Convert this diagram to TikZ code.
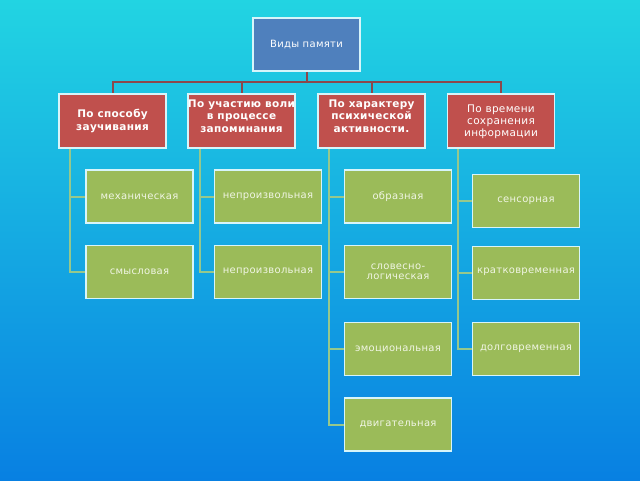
\documentclass[tikz,border=0pt]{standalone}
\usepackage{fontspec}
\setmainfont[LetterSpace=3]{DejaVu Sans}
\definecolor{bgtop}{RGB}{34,212,226}
\definecolor{bgbot}{RGB}{8,128,226}
\definecolor{topfill}{RGB}{79,128,189}
\definecolor{redfill}{RGB}{192,80,77}
\definecolor{greenfill}{RGB}{155,187,89}
\definecolor{edgec}{RGB}{215,245,250}
\definecolor{redline}{RGB}{140,72,76}
\definecolor{greenline}{RGB}{150,200,140}
\definecolor{gtext}{RGB}{240,245,228}
\tikzset{
  boxbase/.style={draw=edgec, line width=1.8pt, minimum width=107pt, minimum height=53pt, inner sep=0pt, align=center},
  topbox/.style={boxbase, fill=topfill, text=white, font=\fontsize{10}{12}\selectfont},
  redbox/.style={boxbase, fill=redfill, minimum height=54pt},
  greenbox/.style={boxbase, fill=greenfill, text=gtext, font=\fontsize{10}{10.5}\selectfont},
  redtext/.style={text=white, align=center, inner sep=0pt, font=\fontsize{10.5}{12.5}\selectfont\bfseries},
  redtextn/.style={text=white, align=center, inner sep=0pt, font=\fontsize{10.5}{12}\selectfont},
  rline/.style={draw=redline, line width=2pt},
  gline/.style={draw=greenline, line width=2pt}
}
\begin{document}
\begin{tikzpicture}[x=1pt,y=-1pt]
\useasboundingbox (0,0) rectangle (640,480);
\shade[top color=bgtop, bottom color=bgbot] (0,0) rectangle (640,480);
% top
\node[topbox] (top) at (306.5,44.5) {Виды памяти};
% red headers
\node[redbox] (r1) at (112.5,121) {};
\node[redbox] (r2) at (241.5,121) {};
\node[redbox] (r3) at (371.5,121) {};
\node[redbox] (r4) at (501,121) {};
\node[redtext] (t1) at (112.5,121) {По способу\\заучивания};
\node[redtext] (t2) at (241.5,116) {По участию воли\\в процессе\\запоминания};
\node[redtext] (t3) at (371.5,116) {По характеру\\психической\\активности.};
\node[redtextn] (t4) at (501,122) {По времени\\сохранения\\информации};
% bus
\coordinate (bus) at (306.5,82);
\draw[rline] (top.south) -- (bus);
\draw[rline] (bus) -| (r1.north);
\draw[rline] (bus) -| (r2.north);
\draw[rline] (bus) -| (r3.north);
\draw[rline] (bus) -| (r4.north);
% green boxes
\node[greenbox] (g11) at (139.5,196.5) {механическая};
\node[greenbox] (g12) at (139.5,272) {смысловая};
\node[greenbox] (g21) at (268,196.5) {непроизвольная};
\node[greenbox] (g22) at (268,272) {непроизвольная};
\node[greenbox] (g31) at (398,196.5) {образная};
\node[greenbox] (g32) at (398,272) {словесно-\\логическая};
\node[greenbox] (g33) at (398,349) {эмоциональная};
\node[greenbox] (g34) at (398,424.5) {двигательная};
\node[greenbox] (g41) at (526,201) {сенсорная};
\node[greenbox] (g42) at (526,273) {\raisebox{5pt}{кратковременная}};
\node[greenbox] (g43) at (526,349) {долговременная};
% green connectors
\coordinate (v1) at (70,149);
\coordinate (v2) at (200,149);
\coordinate (v3) at (329,149);
\coordinate (v4) at (458,149);
\draw[gline] (v1) |- (g11.west);
\draw[gline] (v1) |- (g12.west);
\draw[gline] (v2) |- (g21.west);
\draw[gline] (v2) |- (g22.west);
\draw[gline] (v3) |- (g31.west);
\draw[gline] (v3) |- (g32.west);
\draw[gline] (v3) |- (g33.west);
\draw[gline] (v3) |- (g34.west);
\draw[gline] (v4) |- (g41.west);
\draw[gline] (v4) |- (g42.west);
\draw[gline] (v4) |- (g43.west);
\end{tikzpicture}
\end{document}
